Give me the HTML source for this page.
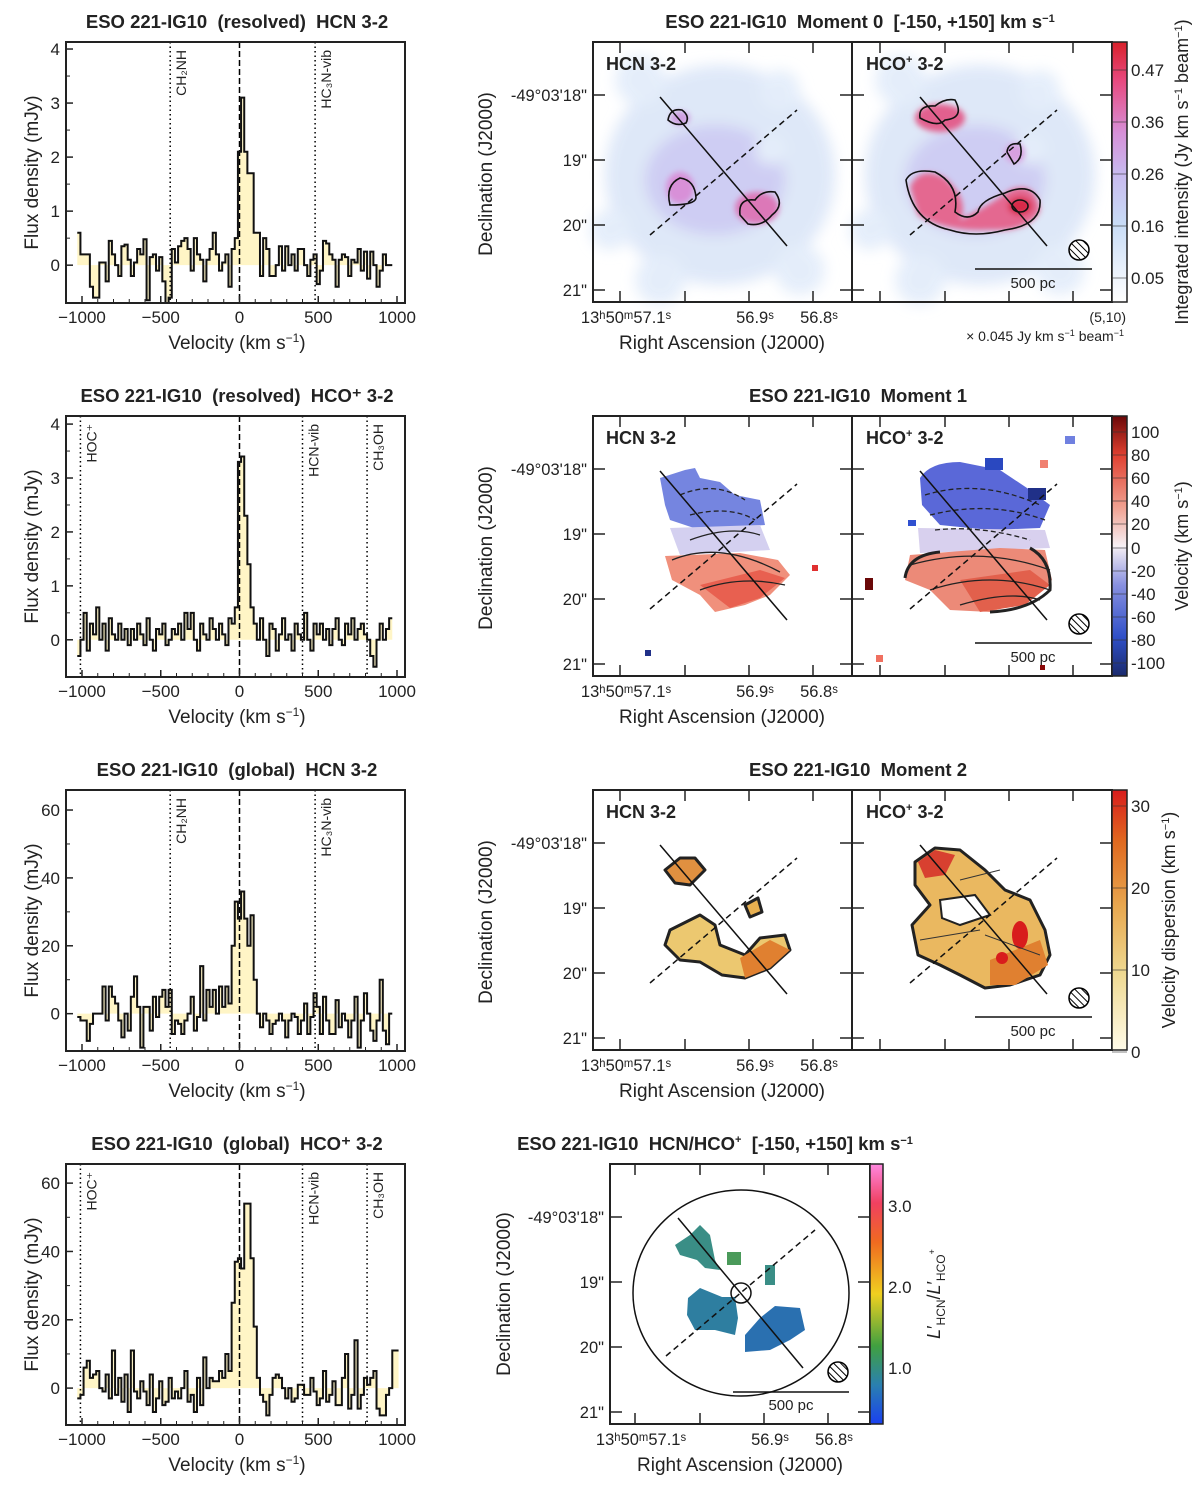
<!DOCTYPE html>
<html><head><meta charset="utf-8"><style>
body{margin:0;background:#fff}
svg text{font-family:"Liberation Sans",sans-serif;fill:#222;white-space:pre}
</style></head><body>
<svg id="fig" width="1200" height="1486" viewBox="0 0 1200 1486" xmlns="http://www.w3.org/2000/svg">
<defs>
<filter id="bl" x="-30%" y="-30%" width="160%" height="160%"><feGaussianBlur stdDeviation="7"/></filter>
<filter id="bl2" x="-30%" y="-30%" width="160%" height="160%"><feGaussianBlur stdDeviation="3"/></filter>
<pattern id="hatch" width="5" height="5" patternUnits="userSpaceOnUse" patternTransform="rotate(-45)"><rect width="5" height="5" fill="#fff"/><line x1="0" y1="0" x2="0" y2="5" stroke="#000" stroke-width="2"/></pattern>
<linearGradient id="cb0" x1="0" y1="1" x2="0" y2="0"><stop offset="0" stop-color="#fff"/><stop offset="0.3" stop-color="#c8dcf6"/><stop offset="0.5" stop-color="#c8b8ee"/><stop offset="0.65" stop-color="#d690d8"/><stop offset="0.85" stop-color="#e84a80"/><stop offset="1" stop-color="#d8202a"/></linearGradient>
<linearGradient id="cb1" x1="0" y1="1" x2="0" y2="0"><stop offset="0" stop-color="#1a2a6c"/><stop offset="0.15" stop-color="#3050c8"/><stop offset="0.35" stop-color="#8890e0"/><stop offset="0.5" stop-color="#f6f0f4"/><stop offset="0.65" stop-color="#f0a090"/><stop offset="0.85" stop-color="#e04030"/><stop offset="1" stop-color="#6a0808"/></linearGradient>
<linearGradient id="cb2" x1="0" y1="1" x2="0" y2="0"><stop offset="0" stop-color="#fffbe8"/><stop offset="0.3" stop-color="#eed890"/><stop offset="0.55" stop-color="#e8a850"/><stop offset="0.8" stop-color="#e06a20"/><stop offset="1" stop-color="#d81c1c"/></linearGradient>
<linearGradient id="cb3" x1="0" y1="1" x2="0" y2="0"><stop offset="0" stop-color="#1a40f0"/><stop offset="0.15" stop-color="#2a80b0"/><stop offset="0.3" stop-color="#40a040"/><stop offset="0.5" stop-color="#f0d020"/><stop offset="0.7" stop-color="#f06a20"/><stop offset="0.85" stop-color="#f04060"/><stop offset="1" stop-color="#ff88e0"/></linearGradient>
</defs>
<g id="spectra"></g>
<g id="maps"></g>
</svg>
<script>
const NS='http://www.w3.org/2000/svg';
const V0=-1030, DV=20;
const xTicks=[-1000,-500,0,500,1000];
const hcnRes=[0.6,0.2,0.2,0.2,-0.4,-0.6,-0.6,0.05,0.05,-0.3,0.45,0.2,0.0,-0.2,0.35,0.38,0.1,-0.2,0.05,0.3,0.2,0.48,-0.65,0.15,0.2,-0.1,0.15,-0.3,-0.7,-0.6,0.3,0.05,0.35,0.45,0.5,0.3,-0.1,0.5,0.2,0.1,-0.3,0.1,0.3,0.6,0.2,-0.1,0.05,0.2,-0.4,0.3,0.5,2.1,3.1,2.1,1.7,1.7,0.6,0.6,-0.2,0.5,0.3,-0.2,-0.2,0.0,0.35,-0.1,0.35,0.0,0.2,-0.1,0.3,0.3,0.0,-0.2,0.1,0.2,-0.35,-0.1,0.45,0.4,0.2,0.1,-0.4,0.1,0.2,0.15,-0.2,0.1,0.05,0.3,-0.1,0.25,-0.25,0.25,0.0,-0.4,-0.1,0.2,0.0,0.0];
const hcoRes=[-0.3,0.0,0.5,-0.2,0.3,0.1,0.6,0.0,0.3,-0.2,0.4,0.1,0.0,0.3,0.0,0.2,-0.1,0.2,0.0,0.3,0.1,-0.1,0.4,0.0,-0.2,0.2,0.1,0.3,-0.1,0.0,0.2,0.1,0.3,0.0,0.5,0.2,0.5,0.0,-0.2,0.3,0.1,0.0,0.4,0.2,0.0,0.3,0.1,-0.1,0.4,0.3,0.6,3.3,3.4,2.3,1.4,0.6,0.3,0.0,0.4,0.0,-0.3,0.3,0.2,-0.2,0.1,0.4,0.0,0.1,-0.2,0.3,0.1,0.0,0.5,0.0,-0.2,0.3,0.1,0.3,0.0,0.2,-0.1,0.2,0.4,0.0,-0.1,0.3,0.1,0.4,0.0,0.2,0.3,0.1,0.0,-0.3,-0.5,0.0,0.3,0.0,0.2,0.4];
const hcnGlob=[-1,-2,-2,-8,-3,0,0,0,8,-2,8,5,3,-2,-7,0,-5,5,11,2,-10,2,2,-5,5,-1,5,7,2,7,-6,-2,-3,-6,-2,0,5,-5,-1,14,-2,7,2,7,0,8,2,8,3,20,33,28,36,28,20,29,10,0,-4,0,-2,-6,-3,-2,0,-2,-7,-2,0,-1,-6,-2,3,-6,-1,6,2,-6,5,-2,-6,-6,4,-4,0,-2,-7,-2,5,-10,-2,6,0,-5,-8,-2,10,-5,-9,0];
const hcoGlob=[-3,-2,6,8,3,4,5,0,-1,4,-3,11,-2,3,-4,4,-7,11,-1,-3,2,-1,-5,4,-7,-3,2,-5,-4,3,-3,-1,-3,0,5,-4,-2,-7,3,-5,9,0,3,2,2,5,3,10,5,25,37,38,35,54,54,38,18,3,-2,-4,-8,-2,3,4,3,0,-3,0,-4,-3,1,1,-2,-2,3,-1,-5,-3,5,-4,-2,2,-5,-5,3,10,-6,-2,14,-6,-2,3,1,3,5,-6,-8,-8,-2,0,11,11];
const panels=[
 {name:'hcn-resolved',title:'ESO 221-IG10  (resolved)  HCN 3-2',top:42,bot:303,ymin:-0.7,ymax:4.13,yt:[0,1,2,3,4],minor:0.5,data:hcnRes,lines:[[-440,'CH₂NH'],[480,'HC₃N-vib']]},
 {name:'hco-resolved',title:'ESO 221-IG10  (resolved)  HCO⁺ 3-2',top:416,bot:677,ymin:-0.69,ymax:4.15,yt:[0,1,2,3,4],minor:0.5,data:hcoRes,lines:[[-1010,'HOC⁺'],[400,'HCN-vib'],[810,'CH₃OH']]},
 {name:'hcn-global',title:'ESO 221-IG10  (global)  HCN 3-2',top:790,bot:1051,ymin:-11,ymax:65.9,yt:[0,20,40,60],minor:10,data:hcnGlob,lines:[[-440,'CH₂NH'],[480,'HC₃N-vib']]},
 {name:'hco-global',title:'ESO 221-IG10  (global)  HCO⁺ 3-2',top:1164,bot:1425,ymin:-10.8,ymax:65.6,yt:[0,20,40,60],minor:10,data:hcoGlob,lines:[[-1010,'HOC⁺'],[400,'HCN-vib'],[810,'CH₃OH']]}
];
function mk(t,a,p){const e=document.createElementNS(NS,t);for(const k in a)e.setAttribute(k,a[k]);(p||document.getElementById('fig')).appendChild(e);return e;}
const L=66,R=405;
const xs=v=>82+(v+1000)*(397-82)/2000;
const G=document.getElementById('spectra');
panels.forEach(p=>{
 const g=mk('g',{},G);
 
 
 const ys=y=>p.bot-(y-p.ymin)*(p.bot-p.top)/(p.ymax-p.ymin);
 let fill='M'+xs(V0)+','+ys(0), line='';
 p.data.forEach((d,i)=>{const a=xs(V0+i*DV),b=xs(V0+(i+1)*DV);const y=Math.max(ys(d),p.top);fill+=' L'+a+','+y+' L'+b+','+y;line+=(i?' L':'M')+a+','+y+' L'+b+','+y;});
 fill+=' L'+xs(V0+p.data.length*DV)+','+ys(0)+'Z';
 const cp=mk('clipPath',{id:'c'+p.name},g);mk('rect',{x:L,y:p.top,width:R-L,height:p.bot-p.top},cp);
 const f=mk('path',{d:fill,fill:'#fff5c6','clip-path':'url(#c'+p.name+')'},g);
 
 p.lines.forEach(l=>{
  const x=xs(l[0]);mk('line',{x1:x,y1:p.top,x2:x,y2:p.bot,stroke:'#000','stroke-width':1.5,'stroke-dasharray':'1.5,3'},g);
  const t=mk('text',{x:0,y:0,'font-size':14,transform:`translate(${x+16},${p.top+8}) rotate(-90)`,'text-anchor':'end'},g);t.textContent=l[1];
  
 });
 mk('line',{x1:xs(0),y1:p.top,x2:xs(0),y2:p.bot,stroke:'#000','stroke-width':1.5,'stroke-dasharray':'6,3'},g);
 const s=mk('path',{d:line,fill:'none',stroke:'#111','stroke-width':2,'clip-path':'url(#c'+p.name+')'},g);
 
 mk('rect',{x:L,y:p.top,width:R-L,height:p.bot-p.top,fill:'none',stroke:'#222','stroke-width':2},g);
 xTicks.forEach(v=>{const x=xs(v);mk('line',{x1:x,y1:p.bot,x2:x,y2:p.bot-7,stroke:'#222','stroke-width':1.5},g);const t=mk('text',{x:x,y:p.bot+20,'font-size':17,'text-anchor':'middle'},g);t.textContent=v<0?'−'+(-v):v;});
 for(let v=-900;v<=900;v+=100){if(v%500){const x=xs(v);mk('line',{x1:x,y1:p.bot,x2:x,y2:p.bot-4,stroke:'#222'},g);}}
 p.yt.forEach(v=>{const y=ys(v);mk('line',{x1:L,y1:y,x2:L+7,y2:y,stroke:'#222','stroke-width':1.5},g);const t=mk('text',{x:L-6,y:y+6,'font-size':17,'text-anchor':'end'},g);t.textContent=v;});
 for(let v=p.minor;v<p.ymax;v+=p.minor*2){const y=ys(v);mk('line',{x1:L,y1:y,x2:L+4,y2:y,stroke:'#222'},g);}
 let t=mk('text',{x:237,y:p.top-14,'font-size':18.5,'font-weight':'bold','text-anchor':'middle'},g);t.textContent=p.title;
 
 t=mk('text',{x:237,y:p.bot+46,'font-size':19,'text-anchor':'middle'},g);t.innerHTML='Velocity (km s<tspan dy="-7" font-size="12">−1</tspan><tspan dy="7">)</tspan>';
 
 t=mk('text',{x:0,y:0,'font-size':19,'text-anchor':'middle',transform:`translate(38,${(p.top+p.bot)/2}) rotate(-90)`},g);t.textContent='Flux density (mJy)';
 
});

// ---- maps ----
const M=document.getElementById('maps');
const decTicks=['-49°03\'18"','19"','20"','21"'];
const raTicks=['13ʰ50ᵐ57.1ˢ','56.9ˢ','56.8ˢ'];
function axesFrame(g,x0,y0,w,h,ox,labels){
 mk('rect',{x:x0,y:y0,width:w,height:h,fill:'none',stroke:'#222','stroke-width':2},g);
 [53,118,183,248].forEach((d,i)=>{mk('line',{x1:x0,y1:y0+d,x2:x0+12,y2:y0+d,stroke:'#222','stroke-width':1.5},g);mk('line',{x1:x0+w,y1:y0+d,x2:x0+w-12,y2:y0+d,stroke:'#222','stroke-width':1.5},g);
  if(labels){const t=mk('text',{x:x0-6,y:y0+d+6,'font-size':16.5,'text-anchor':'end'},g);t.textContent=decTicks[i];}});
 [ox,ox+65,ox+129,ox+193].forEach(x=>{mk('line',{x1:x,y1:y0+h,x2:x,y2:y0+h-11,stroke:'#222','stroke-width':1.5},g);mk('line',{x1:x,y1:y0,x2:x,y2:y0+11,stroke:'#222','stroke-width':1.5},g);});
 if(labels){[[ox,0],[ox+129,1],[ox+193,2]].forEach(a=>{const t=mk('text',{x:a[0]+6,y:y0+h+21,'font-size':16.5,'text-anchor':'middle'},g);t.textContent=raTicks[a[1]];});}
}
function lines(g,dx,dy){
 mk('line',{x1:660+dx,y1:97+dy,x2:787+dx,y2:246+dy,stroke:'#111','stroke-width':1.5},g);
 mk('line',{x1:650+dx,y1:235+dy,x2:797+dx,y2:110+dy,stroke:'#111','stroke-width':1.5,'stroke-dasharray':'6,4'},g);
}
function beam(g,x,y){mk('ellipse',{cx:x,cy:y,rx:10,ry:10,fill:'url(#hatch)',stroke:'#000','stroke-width':1.5},g);}
function scalebar(g,y){mk('line',{x1:975,y1:y,x2:1092,y2:y,stroke:'#111','stroke-width':1.5},g);const t=mk('text',{x:1033,y:y+19,'font-size':15,'text-anchor':'middle'},g);t.textContent='500 pc';}
function lab(g,x,y,html){const t=mk('text',{x:x,y:y,'font-size':18,'font-weight':'bold'},g);t.innerHTML=html;return t;}
function cbar(g,y0,h,grad,ticks,pos,title,tx){
 mk('rect',{x:1112,y:y0,width:15,height:h,fill:'url(#'+grad+')',stroke:'#222','stroke-width':1.5},g);
 ticks.forEach((v,i)=>{mk('line',{x1:1112,y1:pos[i],x2:1127,y2:pos[i],stroke:'#333','stroke-width':0.6},g);const t=mk('text',{x:1131,y:pos[i]+6,'font-size':17},g);t.textContent=v;});
 const t=mk('text',{x:0,y:0,'font-size':18,'text-anchor':'middle',transform:`translate(${tx},${y0+h/2}) rotate(-90)`},g);t.innerHTML=title;
 
}
function mapTitle(g,x,y,html){const t=mk('text',{x:x,y:y,'font-size':18.5,'font-weight':'bold','text-anchor':'middle'},g);t.innerHTML=html;}
function axTitles(g,y0){
 let t=mk('text',{x:722,y:y0+307,'font-size':19,'text-anchor':'middle'},g);t.textContent='Right Ascension (J2000)';
 t=mk('text',{x:0,y:0,'font-size':19,'text-anchor':'middle',transform:`translate(492,${y0+132}) rotate(-90)`},g);t.textContent='Declination (J2000)';
}
const sup='<tspan dy="-7" font-size="11">+</tspan><tspan dy="7"> 3-2</tspan>';

// Moment 0
(function(){
 const g=mk('g',{},M);
 [0,260].forEach(dx=>{
  const b=mk('g',{filter:'url(#bl)',opacity:0.9},g);
  mk('ellipse',{cx:720+dx,cy:175,rx:115,ry:110,fill:'#dbe6f8'},b);
  mk('ellipse',{cx:715+dx,cy:180,rx:70,ry:55,fill:'#c9c8f2'},b);
  [[640,80,25],[780,90,20],[610,230,20],[800,270,25],[660,280,25],[770,150,15]].forEach(c=>mk('circle',{cx:c[0]+dx,cy:c[1],r:c[2],fill:'#e2ecfa'},b));
 });
 const b1=mk('g',{filter:'url(#bl2)'},g);
 mk('ellipse',{cx:680,cy:118,rx:10,ry:7,fill:'#cf9ee0'},b1);
 mk('ellipse',{cx:680,cy:188,rx:14,ry:16,fill:'#d890d8'},b1);
 mk('ellipse',{cx:757,cy:208,rx:22,ry:16,fill:'#dc78b8'},b1);
 const b2=mk('g',{filter:'url(#bl2)'},g);
 mk('ellipse',{cx:940,cy:118,rx:25,ry:14,fill:'#e2608e'},b2);
 mk('ellipse',{cx:1015,cy:153,rx:10,ry:10,fill:'#d8a0e0'},b2);
 mk('path',{d:'M910,187 Q920,165 945,178 Q970,200 960,220 Q990,205 1010,190 Q1035,180 1040,210 Q1030,232 990,230 Q945,232 918,215 Z',fill:'#e46890'},b2);
 mk('ellipse',{cx:1020,cy:206,rx:12,ry:9,fill:'#d82a48'},b2);
 const cs={fill:'none',stroke:'#111','stroke-width':1.6};
 mk('path',{d:'M668,120 Q670,108 682,110 Q690,116 686,123 Q676,127 668,120Z',...cs},g);
 mk('path',{d:'M670,205 Q665,185 680,178 Q695,180 696,198 Q695,205 670,205Z',...cs},g);
 mk('path',{d:'M740,215 Q738,198 755,200 Q762,190 775,192 Q785,205 772,215 Q762,227 748,224 Z',...cs},g);
 mk('path',{d:'M920,118 Q918,105 935,106 Q945,98 955,100 Q965,118 945,120 Q938,128 920,118Z',...cs},g);
 mk('path',{d:'M1007,152 Q1008,142 1020,144 Q1024,158 1014,164 Z',...cs},g);
 mk('path',{d:'M906,180 Q912,168 935,172 Q960,185 955,212 Q968,222 978,212 Q980,200 1005,193 Q1030,182 1040,200 Q1042,225 1005,230 Q975,238 950,230 Q912,222 906,180Z',...cs},g);
 mk('ellipse',{cx:1020,cy:206,rx:8,ry:6,...cs},g);
 lines(g,0,0);lines(g,260,0);
 axesFrame(g,593,42,259,260,620,true);axesFrame(g,852,42,260,260,880,false);
 lab(g,606,70,'HCN 3-2');lab(g,866,70,'HCO'+sup);
 beam(g,1079,250);scalebar(g,269);
 let t=mk('text',{x:1126,y:322,'font-size':14,'text-anchor':'end'},g);t.textContent='(5,10)';
 t=mk('text',{x:1124,y:341,'font-size':14,'text-anchor':'end'},g);t.innerHTML='× 0.045 Jy km s<tspan dy="-5" font-size="9">−1</tspan><tspan dy="5"> beam</tspan><tspan dy="-5" font-size="9">−1</tspan>';
 cbar(g,42,260,'cb0',['0.47','0.36','0.26','0.16','0.05'],[70,122,174,226,278],'Integrated intensity (Jy km s<tspan dy="-6" font-size="11">−1</tspan><tspan dy="6"> beam</tspan><tspan dy="-6" font-size="11">−1</tspan><tspan dy="6">)</tspan>',1188);
 mapTitle(g,860,28,'ESO 221-IG10  Moment 0  [-150, +150] km s<tspan dy="-6" font-size="11">−1</tspan>');
 axTitles(g,42);
})();

// Moment 1
(function(){
 const g=mk('g',{},M);
 const y=374;
 mk('path',{d:'M660,478 L685,470 L695,468 L700,478 L720,482 L735,495 L760,500 L765,525 L700,530 L670,520 L665,505 Z',fill:'#7585e0'},g);
 mk('path',{d:'M670,528 L760,525 L770,550 L735,552 L680,555 Z',fill:'#d4d0f0'},g);
 mk('path',{d:'M665,556 L740,553 L778,560 L790,575 L770,595 L745,605 L715,612 L700,595 L672,580 Z',fill:'#f0907c'},g);
 mk('path',{d:'M700,585 L760,570 L785,578 L760,598 L730,608 Z',fill:'#e86050'},g);
 mk('path',{d:'M920,478 Q930,462 960,462 L1000,470 L1030,490 L1050,505 L1040,528 L990,530 L940,525 L922,505 Z',fill:'#5a68d8'},g);
 mk('path',{d:'M918,528 L1045,530 L1050,548 L920,553 Z',fill:'#d8d0ee'},g);
 mk('path',{d:'M910,555 L1000,548 L1045,550 L1052,580 L1030,600 L990,612 L950,610 L930,590 L905,580 Z',fill:'#ec8a78'},g);
 mk('path',{d:'M960,580 L1030,570 L1050,585 L1025,605 L980,612 Z',fill:'#e2604c'},g);
 [[985,458,18,12,'#2a48c0'],[1028,488,18,12,'#203088'],[1065,436,10,8,'#7080e0'],[1040,460,8,8,'#f08070'],[865,578,8,12,'#6a0808'],[876,655,7,7,'#f07060'],[645,650,6,6,'#203088'],[812,565,6,6,'#e03030'],[908,520,8,6,'#3050d0'],[1040,665,5,5,'#8a0808']].forEach(c=>mk('rect',{x:c[0],y:c[1],width:c[2],height:c[3],fill:c[4]},g));
 const cs={fill:'none',stroke:'#222','stroke-width':1.3};
 mk('path',{d:'M672,560 Q720,540 780,572 M690,540 Q730,525 760,535 M700,590 Q740,575 785,585',...cs},g);
 mk('path',{d:'M680,495 Q715,480 745,500 M690,515 Q730,505 755,520',...cs,'stroke-dasharray':'5,3'},g);
 mk('path',{d:'M925,495 Q980,478 1040,505 M930,515 Q990,500 1045,520 M935,530 Q980,525 1030,540',...cs,'stroke-dasharray':'5,3'},g);
 mk('path',{d:'M910,565 Q980,545 1050,570 M930,590 Q990,570 1050,590 M960,605 Q1010,590 1040,600',...cs},g);
 mk('path',{d:'M905,578 Q908,555 940,552 M1030,548 Q1052,560 1050,590 Q1030,610 990,612',fill:'none',stroke:'#222','stroke-width':3},g);
 lines(g,0,y);lines(g,260,y);
 axesFrame(g,593,416,259,260,620,true);axesFrame(g,852,416,260,260,880,false);
 lab(g,606,444,'HCN 3-2');lab(g,866,444,'HCO'+sup);
 beam(g,1079,624);scalebar(g,643);
 cbar(g,416,260,'cb1',['100','80','60','40','20','0','-20','-40','-60','-80','-100'],[432,455,478,501,524,548,571,594,617,640,663],'Velocity (km s<tspan dy="-6" font-size="11">−1</tspan><tspan dy="6">)</tspan>',1188);
 mapTitle(g,858,402,'ESO 221-IG10  Moment 1');
 axTitles(g,416);
})();

// Moment 2
(function(){
 const g=mk('g',{},M);
 const y=748;
 const ed={stroke:'#222','stroke-width':3,'stroke-linejoin':'round'};
 mk('path',{d:'M665,870 L680,858 L695,858 L705,870 L690,885 L675,883 Z',fill:'#e09040',...ed},g);
 mk('path',{d:'M670,930 L700,915 L715,925 L720,945 L745,955 L760,938 L785,935 L790,950 L770,968 L745,978 L722,975 L700,962 L680,960 L665,945 Z',fill:'#ecc870',...ed},g);
 mk('path',{d:'M740,958 L770,940 L790,950 L770,968 L745,978 Z',fill:'#e08030'},g);
 mk('path',{d:'M745,905 L758,898 L762,912 L750,917 Z',fill:'#e8b050',...ed},g);
 mk('path',{d:'M915,862 L935,848 L960,850 L985,870 L1005,890 L1030,900 L1045,930 L1050,955 L1040,975 L1010,985 L985,988 L960,975 L940,965 L918,955 L912,925 L930,905 L915,885 Z',fill:'#eab860',...ed},g);
 mk('path',{d:'M940,900 L975,895 L990,915 L960,925 L942,918 Z',fill:'#fff',stroke:'#222','stroke-width':2},g);
 mk('path',{d:'M918,862 L935,850 L955,855 L945,875 L925,878 Z',fill:'#d84030'},g);
 mk('path',{d:'M990,960 L1040,940 L1048,965 L1015,985 L990,985 Z',fill:'#e08030'},g);
 mk('ellipse',{cx:1020,cy:935,rx:8,ry:14,fill:'#d81c1c'},g);
 mk('circle',{cx:1002,cy:958,r:6,fill:'#d81c1c'},g);
 mk('path',{d:'M960,880 L1000,870 M920,940 L980,930 M985,935 L1040,955',fill:'none',stroke:'#333','stroke-width':1},g);
 lines(g,0,y);lines(g,260,y);
 axesFrame(g,593,790,259,260,620,true);axesFrame(g,852,790,260,260,880,false);
 lab(g,606,818,'HCN 3-2');lab(g,866,818,'HCO'+sup);
 beam(g,1079,998);scalebar(g,1017);
 cbar(g,790,260,'cb2',['30','20','10','0'],[806,888,970,1052],'Velocity dispersion (km s<tspan dy="-6" font-size="11">−1</tspan><tspan dy="6">)</tspan>',1175);
 mapTitle(g,858,776,'ESO 221-IG10  Moment 2');
 axTitles(g,790);
})();

// Ratio
(function(){
 const g=mk('g',{},M);
 mk('path',{d:'M675,1245 L690,1235 L700,1225 L710,1235 L715,1260 L720,1270 L705,1268 L697,1260 L680,1255 Z',fill:'#3a8e86'},g);
 mk('rect',{x:727,y:1252,width:14,height:13,fill:'#4a9a5a'},g);
 mk('rect',{x:765,y:1265,width:10,height:20,fill:'#3a8e86'},g);
 mk('path',{d:'M688,1298 L700,1288 L722,1297 L735,1297 L738,1318 L735,1335 L715,1330 L695,1330 L687,1315 Z',fill:'#2e7ea0'},g);
 mk('path',{d:'M745,1335 L760,1318 L775,1306 L800,1308 L805,1330 L790,1340 L770,1350 L745,1352 Z',fill:'#2a70b0'},g);
 mk('ellipse',{cx:741,cy:1293,rx:108,ry:103,fill:'none',stroke:'#111','stroke-width':1.5},g);
 mk('circle',{cx:741,cy:1293,r:10,fill:'none',stroke:'#111','stroke-width':1.5},g);
 mk('line',{x1:678,y1:1218,x2:803,y2:1368,stroke:'#111','stroke-width':1.5},g);
 mk('line',{x1:666,y1:1356,x2:815,y2:1230,stroke:'#111','stroke-width':1.5,'stroke-dasharray':'6,4'},g);
 mk('rect',{x:610,y:1164,width:260,height:260,fill:'none',stroke:'#222','stroke-width':2},g);
 [1217,1282,1347,1412].forEach((d,i)=>{mk('line',{x1:610,y1:d,x2:622,y2:d,stroke:'#222','stroke-width':1.5},g);mk('line',{x1:870,y1:d,x2:858,y2:d,stroke:'#222','stroke-width':1.5},g);const t=mk('text',{x:604,y:d+6,'font-size':16.5,'text-anchor':'end'},g);t.textContent=decTicks[i];});
 [635,700,764,828].forEach(x=>{mk('line',{x1:x,y1:1424,x2:x,y2:1413,stroke:'#222','stroke-width':1.5},g);mk('line',{x1:x,y1:1164,x2:x,y2:1175,stroke:'#222','stroke-width':1.5},g);});
 [[635,0],[764,1],[828,2]].forEach(a=>{const t=mk('text',{x:a[0]+6,y:1445,'font-size':16.5,'text-anchor':'middle'},g);t.textContent=raTicks[a[1]];});
 mk('ellipse',{cx:838,cy:1372,rx:10,ry:10,fill:'url(#hatch)',stroke:'#000','stroke-width':1.5},g);
 mk('line',{x1:733,y1:1392,x2:849,y2:1392,stroke:'#111','stroke-width':1.5},g);
 let t=mk('text',{x:791,y:1410,'font-size':15,'text-anchor':'middle'},g);t.textContent='500 pc';
 mk('rect',{x:870,y:1164,width:13,height:260,fill:'url(#cb3)',stroke:'#222','stroke-width':1.5},g);
 [['3.0',1206],['2.0',1287],['1.0',1368]].forEach(a=>{const t=mk('text',{x:888,y:a[1]+6,'font-size':17},g);t.textContent=a[0];});
 t=mk('text',{x:0,y:0,'font-size':18,'text-anchor':'middle',transform:'translate(940,1294) rotate(-90)'},g);
 t.innerHTML='<tspan font-style="italic">L</tspan>′<tspan dy="5" font-size="12">HCN</tspan><tspan dy="-5">/</tspan><tspan font-style="italic">L</tspan>′<tspan dy="5" font-size="12">HCO</tspan><tspan dy="-10" font-size="9">+</tspan>';
 
 mapTitle(g,715,1150,'ESO 221-IG10  HCN/HCO<tspan dy="-7" font-size="11">+</tspan><tspan dy="7">  [-150, +150] km s</tspan><tspan dy="-6" font-size="11">−1</tspan>');
 t=mk('text',{x:740,y:1471,'font-size':19,'text-anchor':'middle'},g);t.textContent='Right Ascension (J2000)';
 t=mk('text',{x:0,y:0,'font-size':19,'text-anchor':'middle',transform:'translate(510,1294) rotate(-90)'},g);t.textContent='Declination (J2000)';
})();
</script>
</body></html>
